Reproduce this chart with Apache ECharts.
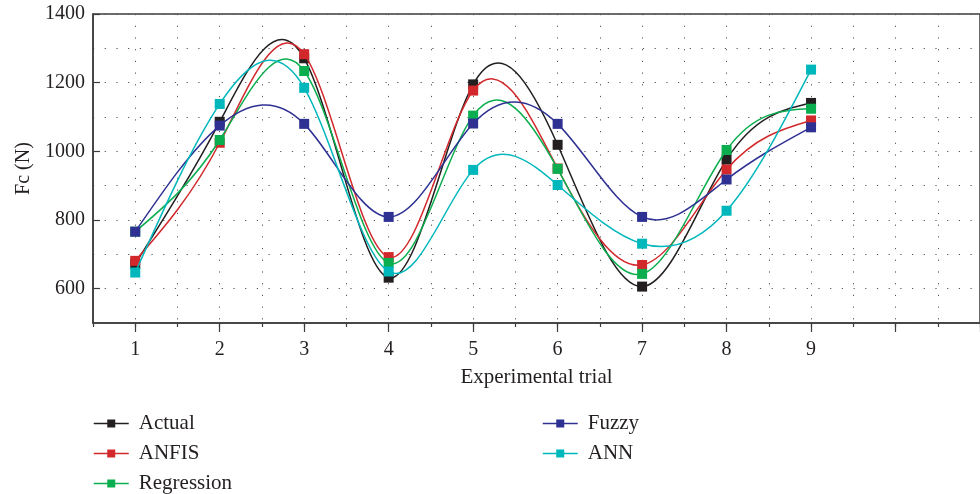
<!DOCTYPE html>
<html>
<head>
<meta charset="utf-8">
<script src="https://cdn.jsdelivr.net/npm/echarts@6/dist/echarts.min.js"></script>
<style>
  html, body { margin: 0; padding: 0; background: #fff; }
  #chart { width: 980px; height: 494px; }
</style>
</head>
<body>
<div id="chart"></div>
<script>
// Cutting force Fc (N) per experimental trial: measured vs. model predictions
const trials = [1, 2, 3, 4, 5, 6, 7, 8, 9];
const actual     = [672, 1086, 1271, 632, 1195, 1019, 606, 976, 1141];
const anfis      = [681, 1025, 1283, 692, 1177, 950, 669, 947, 1090];
const regression = [766, 1033, 1234, 675, 1104, 949, 643, 1004, 1124];
const fuzzy      = [766, 1075, 1080, 809, 1081, 1080, 809, 918, 1070];
const ann        = [647, 1138, 1185, 650, 946, 902, 731, 827, 1238];

const seriesNames = ['Actual', 'ANFIS', 'Regression', 'Fuzzy', 'ANN'];
const seriesValues = [actual, anfis, regression, fuzzy, ann];
const seriesColors = ['#231f20', '#d2282c', '#0aae4e', '#2e3192', '#00b7bb'];

const yTickValues = [600, 800, 1000, 1200, 1400];
const xTickValues = [1, 2, 3, 4, 5, 6, 7, 8, 9, 10, 11];
const xLabelValues = [1, 2, 3, 4, 5, 6, 7, 8, 9];

const FONT = 'Liberation Serif';
const TEXT_COLOR = '#231f20';
const AXIS_COLOR = '#3c3c3c';
const DOT_LINE = { color: '#555', width: 1, type: [1.2, 10.5] };

// Node slopes of a natural cubic spline through (xs, ys)
function splineSlopes(xs, ys) {
  const n = xs.length;
  const h = [];
  for (let i = 0; i < n - 1; i++) h.push(xs[i + 1] - xs[i]);
  // Solve for second derivatives M (M0 = Mn-1 = 0) with the Thomas algorithm
  const a = new Array(n).fill(0), b = new Array(n).fill(1), c = new Array(n).fill(0), d = new Array(n).fill(0);
  for (let i = 1; i < n - 1; i++) {
    a[i] = h[i - 1];
    b[i] = 2 * (h[i - 1] + h[i]);
    c[i] = h[i];
    d[i] = 6 * ((ys[i + 1] - ys[i]) / h[i] - (ys[i] - ys[i - 1]) / h[i - 1]);
  }
  for (let i = 1; i < n; i++) {
    const w = a[i] / b[i - 1];
    b[i] -= w * c[i - 1];
    d[i] -= w * d[i - 1];
  }
  const M = new Array(n).fill(0);
  M[n - 1] = d[n - 1] / b[n - 1];
  for (let i = n - 2; i >= 0; i--) M[i] = (d[i] - c[i] * M[i + 1]) / b[i];
  const m = [];
  for (let i = 0; i < n - 1; i++) {
    m.push((ys[i + 1] - ys[i]) / h[i] - h[i] * (2 * M[i] + M[i + 1]) / 6);
  }
  m.push((ys[n - 1] - ys[n - 2]) / h[n - 2] + h[n - 2] * (M[n - 2] + 2 * M[n - 1]) / 6);
  return m;
}

const chart = echarts.init(document.getElementById('chart'), null, { renderer: 'canvas' });

const series = [];
seriesNames.forEach((name, i) => {
  const values = seriesValues[i];
  const slopes = splineSlopes(trials, values);
  const color = seriesColors[i];
  // Spline curve: each segment is drawn as a cubic Bezier whose control points
  // come from the spline slopes, mapped through the chart's own axes.
  series.push({
    type: 'custom',
    name: name + ' curve',
    xAxisIndex: 0,
    yAxisIndex: 0,
    data: trials.slice(0, -1).map((t, k) => [t, values[k]]),
    silent: true,
    animation: false,
    z: 10 + 2 * i,
    renderItem: function (params, api) {
      const k = params.dataIndex;
      const x0 = trials[k], x1 = trials[k + 1];
      const y0 = values[k], y1 = values[k + 1];
      const h = x1 - x0;
      const p0 = api.coord([x0, y0]);
      const c1 = api.coord([x0 + h / 3, y0 + slopes[k] * h / 3]);
      const c2 = api.coord([x1 - h / 3, y1 - slopes[k + 1] * h / 3]);
      const p1 = api.coord([x1, y1]);
      return {
        type: 'bezierCurve',
        shape: { x1: p0[0], y1: p0[1], cpx1: c1[0], cpy1: c1[1], cpx2: c2[0], cpy2: c2[1], x2: p1[0], y2: p1[1] },
        style: { stroke: color, lineWidth: 1.5, fill: null }
      };
    }
  });
  // Square markers at the measured / predicted values
  series.push({
    name,
    type: 'line',
    xAxisIndex: 0,
    yAxisIndex: 0,
    data: trials.map((t, k) => [t, values[k]]),
    symbol: 'rect',
    symbolSize: 10,
    showSymbol: true,
    lineStyle: { width: 1.5, color, opacity: 0 },
    itemStyle: { color },
    emphasis: { disabled: true },
    animation: false,
    z: 11 + 2 * i
  });
});

const legendCommon = {
  orient: 'vertical',
  padding: 0,
  itemWidth: 35,
  itemHeight: 10,
  itemGap: 9,
  height: 120,
  lineStyle: { opacity: 1, width: 1.5 },
  textStyle: { fontFamily: FONT, fontSize: 21, color: TEXT_COLOR, padding: [0, 0, 0, 5], lineHeight: 20 },
  selectedMode: false
};

chart.setOption({
  backgroundColor: '#fff',
  animation: false,
  grid: {
    left: 93, top: 14, width: 896, height: 309,
    show: true, borderColor: AXIS_COLOR, borderWidth: 1.5, backgroundColor: 'transparent'
  },
  legend: [
    Object.assign({}, legendCommon, { left: 93, top: 413, data: seriesNames.slice(0, 3) }),
    Object.assign({}, legendCommon, { left: 542, top: 413, data: seriesNames.slice(3) })
  ],
  xAxis: [
    {
      type: 'value', min: 0.5, max: 11, position: 'bottom',
      name: 'Experimental trial', nameLocation: 'middle', nameGap: 44,
      nameTextStyle: { fontFamily: FONT, fontSize: 21, color: TEXT_COLOR },
      axisLine: { show: true, lineStyle: { color: AXIS_COLOR, width: 1.5 } },
      axisTick: { show: true, length: 9, customValues: xTickValues, lineStyle: { color: AXIS_COLOR, width: 1.2 } },
      axisLabel: { show: true, customValues: xLabelValues, margin: 17, fontFamily: FONT, fontSize: 20, color: TEXT_COLOR },
      splitLine: { show: false }
    },
    {
      type: 'value', min: 0.5, max: 11, interval: 0.5, position: 'bottom',
      axisLine: { show: false },
      axisTick: { show: true, length: 4, lineStyle: { color: AXIS_COLOR, width: 1.2 } },
      axisLabel: { show: false },
      splitLine: { show: true, lineStyle: DOT_LINE }
    }
  ],
  yAxis: [
    {
      type: 'value', min: 500, max: 1400, position: 'left',
      name: 'Fc (N)', nameLocation: 'middle', nameGap: 57,
      nameTextStyle: { fontFamily: FONT, fontSize: 20, color: TEXT_COLOR },
      axisLine: { show: true, lineStyle: { color: AXIS_COLOR, width: 1.5 } },
      axisTick: { show: true, inside: true, length: 7, customValues: yTickValues, lineStyle: { color: AXIS_COLOR, width: 1.2 } },
      axisLabel: {
        show: true, customValues: yTickValues, margin: 8,
        formatter: (v) => String(v),
        fontFamily: FONT, fontSize: 20, color: TEXT_COLOR
      },
      splitLine: { show: false }
    },
    {
      type: 'value', min: 500, max: 1400, interval: 100, position: 'left',
      axisLine: { show: false },
      axisTick: { show: false },
      axisLabel: { show: false },
      splitLine: { show: true, lineStyle: DOT_LINE }
    }
  ],
  series
});
</script>
</body>
</html>
